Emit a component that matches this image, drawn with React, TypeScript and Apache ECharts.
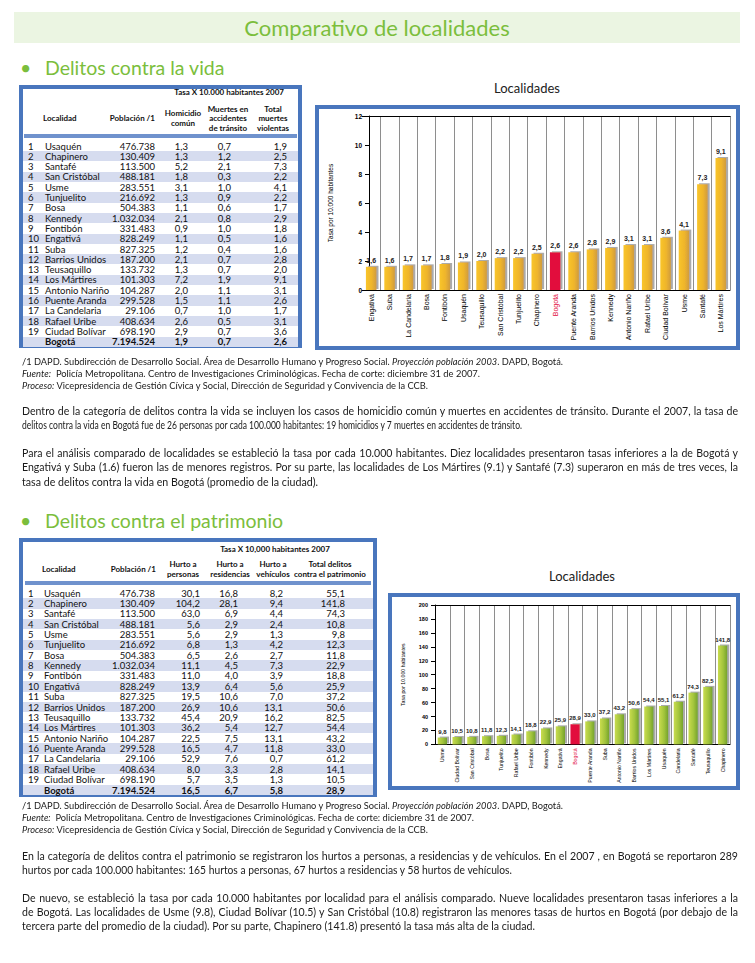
import React, { useEffect, useLayoutEffect, useRef } from "react";
import * as echarts from "echarts";

// ---------- Data: table "Delitos contra la vida" ----------
const localidades = ["Usaquén", "Chapinero", "Santafé", "San Cristóbal", "Usme", "Tunjuelito", "Bosa", "Kennedy", "Fontibón", "Engativá", "Suba", "Barrios Unidos", "Teusaquillo", "Los Mártires", "Antonio Nariño", "Puente Aranda", "La  Candelaria", "Rafael Uribe", "Ciudad Bolívar"];
const poblacion = [476738, 130409, 113500, 488181, 283551, 216692, 504383, 1032034, 331483, 828249, 827325, 187200, 133732, 101303, 104287, 299528, 29106, 408634, 698190];
const poblacionBogota = 7194524;
const homicidioComun = [1.3, 1.3, 5.2, 1.8, 3.1, 1.3, 1.1, 2.1, 0.9, 1.1, 1.2, 2.1, 1.3, 7.2, 2.0, 1.5, 0.7, 2.6, 2.9];
const muertesTransito = [0.7, 1.2, 2.1, 0.3, 1.0, 0.9, 0.6, 0.8, 1.0, 0.5, 0.4, 0.7, 0.7, 1.9, 1.1, 1.1, 1.0, 0.5, 0.7];
const totalVida = [1.9, 2.5, 7.3, 2.2, 4.1, 2.2, 1.7, 2.9, 1.8, 1.6, 1.6, 2.8, 2.0, 9.1, 3.1, 2.6, 1.7, 3.1, 3.6];
const bogotaVida = [1.9, 0.7, 2.6];

// ---------- Data: table "Delitos contra el patrimonio" ----------
const hurtoPersonas = [30.1, 104.2, 63.0, 5.6, 5.6, 6.8, 6.5, 11.1, 11.0, 13.9, 19.5, 26.9, 45.4, 36.2, 22.5, 16.5, 52.9, 8.0, 5.7];
const hurtoResidencias = [16.8, 28.1, 6.9, 2.9, 2.9, 1.3, 2.6, 4.5, 4.0, 6.4, 10.6, 10.6, 20.9, 5.4, 7.5, 4.7, 7.6, 3.3, 3.5];
const hurtoVehiculos = [8.2, 9.4, 4.4, 2.4, 1.3, 4.2, 2.7, 7.3, 3.9, 5.6, 7.0, 13.1, 16.2, 12.7, 13.1, 11.8, 0.7, 2.8, 1.3];
const totalPatrimonio = [55.1, 141.8, 74.3, 10.8, 9.8, 12.3, 11.8, 22.9, 18.8, 25.9, 37.2, 50.6, 82.5, 54.4, 43.2, 33.0, 61.2, 14.1, 10.5];
const bogotaPatrimonio = [16.5, 6.7, 5.8, 28.9];

// ---------- Data: charts ----------
const vidaCategorias = ["Engativá", "Suba", "La Candelaria", "Bosa", "Fontibón", "Usaquén", "Teusaquillo", "San Cristóbal", "Tunjuelito", "Chapinero", "Bogotá", "Puente Aranda", "Barrios Unidos", "Kennedy", "Antonio Nariño", "Rafael Uribe", "Ciudad Bolívar", "Usme", "Santafé", "Los Mártires"];
const vidaValores = [1.6, 1.6, 1.7, 1.7, 1.8, 1.9, 2.0, 2.2, 2.2, 2.5, 2.6, 2.6, 2.8, 2.9, 3.1, 3.1, 3.6, 4.1, 7.3, 9.1];
const vidaEje = [0, 12, 2]; // min, max, interval

const patrimonioCategorias = ["Usme", "Ciudad Bolívar", "San Cristóbal", "Bosa", "Tunjuelito", "Rafael Uribe", "Fontibón", "Kennedy", "Engativá", "Bogotá", "Puente Aranda", "Suba", "Antonio Nariño", "Barrios Unidos", "Los Mártires", "Usaquén", "Candelaria", "Santafé", "Teusaquillo", "Chapinero"];
const patrimonioValores = [9.8, 10.5, 10.8, 11.8, 12.3, 14.1, 18.8, 22.9, 25.9, 28.9, 33.0, 37.2, 43.2, 50.6, 54.4, 55.1, 61.2, 74.3, 82.5, 141.8];
const patrimonioEje = [0, 200, 20];

// ---------- Styling ----------
const W = 755;
const GREEN = "#7BBE3C";
const BLUE = "#4976BD";
const SHADE = "#D6DCEF";
const SEP = "#6F92CD";
const RED = "#E2083C";

const miles = (n: number) => String(n).replace(/\B(?=(\d{3})+(?!\d))/g, ".");
const dec = (v: number) => v.toFixed(1).replace(".", ",");

function Txt({ x, y, a = "l", s = 9, b = false, c = "#111", it = false, children }: any) {
  const lh = Math.ceil(s * 1.3);
  const st: any = {
    position: "absolute", top: y - lh / 2, fontSize: s, lineHeight: lh + "px", whiteSpace: "nowrap",
    fontWeight: b ? 700 : 400, color: c, fontStyle: it ? "italic" : "normal", fontFamily: "Lato",
  };
  if (a === "l") st.left = x;
  else if (a === "r") st.right = W - x;
  else { st.left = x; st.transform = "translateX(-50%)"; }
  return <div style={st}>{children}</div>;
}

// A line of running text fitted to the width it has in the reference.
// Justified lines keep a fixed glyph condensation and spread their word spaces.
function Fit({ x, y, w, s, j = false, c = "#1a1a1a", children }: any) {
  const ref = useRef<HTMLDivElement>(null);
  useLayoutEffect(() => {
    const el = ref.current;
    if (!el) return;
    el.style.transform = "none";
    el.style.wordSpacing = "0px";
    const nat = el.getBoundingClientRect().width;
    if (nat <= 0) return;
    if (j) {
      const g = 0.96;
      const spaces = ((el.textContent || "").match(/ /g) || []).length;
      if (spaces > 0) el.style.wordSpacing = (w / g - nat) / spaces + "px";
      const nat2 = el.getBoundingClientRect().width;
      el.style.transform = `scaleX(${w / nat2})`;
    } else {
      el.style.transform = `scaleX(${w / nat})`;
    }
  }, [w, j]);
  const lh = Math.ceil(s * 1.3);
  return (
    <div ref={ref} style={{ position: "absolute", left: x, top: y - lh / 2, fontSize: s, lineHeight: lh + "px", whiteSpace: "nowrap", transformOrigin: "0 50%", color: c, fontFamily: "Lato" }}>
      {children}
    </div>
  );
}

function Box({ l, t, w, h }: any) {
  return <div style={{ position: "absolute", left: l, top: t, width: w, height: h, border: `4px solid ${BLUE}`, boxSizing: "border-box" }} />;
}

function Chart({ l, t, w, h, option }: any) {
  const ref = useRef<HTMLDivElement>(null);
  useEffect(() => {
    const c = echarts.init(ref.current!, null, { renderer: "svg" });
    c.setOption(option);
    return () => c.dispose();
  }, []);
  return <div ref={ref} style={{ position: "absolute", left: l, top: t, width: w, height: h }} />;
}

function barOption(cats: string[], vals: number[], eje: number[], cfg: any) {
  const grad = new echarts.graphic.LinearGradient(0, 0, 1, 0, cfg.grad);
  const split = cats.map(() => "#8E8E8E");
  split.push("#8E8E8E");
  if (cfg.hideFirst) split[0] = "rgba(0,0,0,0)";
  return {
    animation: false,
    grid: cfg.grid,
    xAxis: [
      {
        type: "category", data: cats,
        axisLine: { lineStyle: { color: "#000", width: 1 } },
        axisTick: { show: false },
        axisLabel: {
          rotate: 90, interval: 0, fontSize: cfg.xFont, fontFamily: "Liberation Sans, Arial", margin: cfg.xMargin,
          color: (v: string) => (v === "Bogotá" ? RED : "#000"),
        },
        splitLine: { show: true, interval: 0, lineStyle: { color: split, width: 1 } },
      },
      {
        type: "category", data: cats, position: "top",
        axisLine: { lineStyle: { color: "#000", width: 1 } },
        axisTick: { show: false }, axisLabel: { show: false }, splitLine: { show: false },
      },
    ],
    yAxis: {
      type: "value", min: eje[0], max: eje[1], interval: eje[2], offset: cfg.yOffset,
      axisLine: { show: true, lineStyle: { color: "#000", width: 1 } },
      axisTick: { show: true, length: 4, lineStyle: { color: "#000" } },
      axisLabel: { fontSize: cfg.yFont, fontWeight: "bold", color: "#000", fontFamily: "Liberation Sans, Arial", margin: cfg.yMargin },
      splitLine: { show: false },
      name: "Tasa por 10.000 habitantes", nameLocation: "middle", nameGap: cfg.nameGap,
      nameTextStyle: { fontSize: cfg.nameFont, color: "#000", fontFamily: "Liberation Sans, Arial" },
    },
    series: [
      {
        type: "bar", xAxisIndex: 0, barWidth: cfg.barWidth,
        data: vals.map((v, i) => ({
          value: v,
          itemStyle: cats[i] === "Bogotá" ? { color: RED } : undefined,
        })),
        itemStyle: { color: grad, shadowColor: "rgba(150,150,150,0.8)", shadowOffsetX: 2, shadowOffsetY: -1, shadowBlur: 0 },
        label: {
          show: true, position: "top", distance: 3, fontSize: cfg.valFont, fontWeight: "bold", color: "#222",
          fontFamily: "Liberation Sans, Arial", formatter: (p: any) => dec(p.value),
        },
      },
    ],
  };
}

const option1 = barOption(vidaCategorias, vidaValores, vidaEje, {
  grad: [{ offset: 0, color: "#F9C52A" }, { offset: 0.55, color: "#EFB52C" }, { offset: 1, color: "#CF9B3E" }],
  grid: { left: 26, right: 6, top: 7, bottom: 56 },
  hideFirst: true, xFont: 7, xMargin: 4, yOffset: -7, yFont: 6.5, yMargin: 7,
  nameGap: 35, nameFont: 6.5, barWidth: 10.6, valFont: 7,
});

const option2 = barOption(patrimonioCategorias, patrimonioValores, patrimonioEje, {
  grad: [{ offset: 0, color: "#C9DC4E" }, { offset: 0.55, color: "#A2C43C" }, { offset: 1, color: "#74A22C" }],
  grid: { left: 31, right: 6, top: 8, bottom: 40 },
  hideFirst: false, xFont: 5.2, xMargin: 4, yOffset: 0, yFont: 5.5, yMargin: 7,
  nameGap: 30, nameFont: 5.2, barWidth: 9.3, valFont: 6,
});

function Table1() {
  const y0 = 146, rh = 10.3;
  const rows: any[] = localidades.map((n, i) => ({ num: String(i + 1), name: n, pop: miles(poblacion[i]), v: [homicidioComun[i], muertesTransito[i], totalVida[i]], b: false }));
  rows.push({ num: "", name: "Bogotá", pop: miles(poblacionBogota), v: bogotaVida, b: true });
  const cols = [188, 231, 287];
  const hs = 8;
  return (
    <>
      <Box l={19} t={85} w={283} h={263} />
      {rows.map((r, i) => (i % 2 === 1 ? <div key={"s" + i} style={{ position: "absolute", left: 23, top: y0 + i * rh - rh / 2, width: 275, height: rh, background: SHADE }} /> : null))}
      <div style={{ position: "absolute", left: 24, top: 134, width: 273, height: 4, background: SEP }} />
      <Txt x={284} y={92} a="r" s={hs} b>Tasa X 10.000 habitantes 2007</Txt>
      <Txt x={43} y={118} s={hs} b>Localidad</Txt>
      <Txt x={155} y={118} a="r" s={hs} b>Población /1</Txt>
      <Txt x={183} y={113} a="c" s={hs} b>Homicidio</Txt>
      <Txt x={183} y={123} a="c" s={hs} b>común</Txt>
      <Txt x={228} y={109} a="c" s={hs} b>Muertes en</Txt>
      <Txt x={228} y={118.5} a="c" s={hs} b>accidentes</Txt>
      <Txt x={228} y={128} a="c" s={hs} b>de tránsito</Txt>
      <Txt x={273} y={109} a="c" s={hs} b>Total</Txt>
      <Txt x={273} y={118.5} a="c" s={hs} b>muertes</Txt>
      <Txt x={273} y={128} a="c" s={hs} b>violentas</Txt>
      {rows.map((r, i) => {
        const y = y0 + i * rh;
        return (
          <React.Fragment key={"r" + i}>
            <Txt x={28} y={y} s={9.5}>{r.num}</Txt>
            <Txt x={45} y={y} s={9.5} b={r.b}>{r.name}</Txt>
            <Txt x={155} y={y} a="r" s={9.5} b={r.b}>{r.pop}</Txt>
            {r.v.map((v: number, k: number) => (
              <Txt key={k} x={cols[k]} y={y} a="r" s={9.5} b={r.b}>{dec(v)}</Txt>
            ))}
          </React.Fragment>
        );
      })}
    </>
  );
}

function Table2() {
  const y0 = 593, rh = 10.37;
  const rows: any[] = localidades.map((n, i) => ({ num: String(i + 1), name: n, pop: miles(poblacion[i]), v: [hurtoPersonas[i], hurtoResidencias[i], hurtoVehiculos[i], totalPatrimonio[i]], b: false }));
  rows.push({ num: "", name: "Bogotá", pop: miles(poblacionBogota), v: bogotaPatrimonio, b: true });
  const cols = [200, 238, 283, 345];
  const hs = 8;
  return (
    <>
      <Box l={19} t={538} w={358} h={259} />
      {rows.map((r, i) => (i % 2 === 1 ? <div key={"s" + i} style={{ position: "absolute", left: 23, top: y0 + i * rh - rh / 2, width: 350, height: rh, background: SHADE }} /> : null))}
      <div style={{ position: "absolute", left: 25, top: 581, width: 346, height: 4, background: SEP }} />
      <Txt x={275} y={549} a="c" s={hs} b>Tasa X 10,000 habitantes 2007</Txt>
      <Txt x={42} y={569} s={hs} b>Localidad</Txt>
      <Txt x={156} y={569} a="r" s={hs} b>Población /1</Txt>
      <Txt x={183} y={564} a="c" s={hs} b>Hurto a</Txt>
      <Txt x={183} y={574} a="c" s={hs} b>personas</Txt>
      <Txt x={230} y={564} a="c" s={hs} b>Hurto a</Txt>
      <Txt x={230} y={574} a="c" s={hs} b>residencias</Txt>
      <Txt x={273} y={564} a="c" s={hs} b>Hurto a</Txt>
      <Txt x={273} y={574} a="c" s={hs} b>vehículos</Txt>
      <Txt x={330} y={564} a="c" s={hs} b>Total delitos</Txt>
      <Txt x={330} y={574} a="c" s={hs} b>contra el patrimonio</Txt>
      {rows.map((r, i) => {
        const y = y0 + i * rh;
        return (
          <React.Fragment key={"r" + i}>
            <Txt x={28} y={y} s={9.5}>{r.num}</Txt>
            <Txt x={44} y={y} s={9.5} b={r.b}>{r.name}</Txt>
            <Txt x={155} y={y} a="r" s={9.5} b={r.b}>{r.pop}</Txt>
            {r.v.map((v: number, k: number) => (
              <Txt key={k} x={cols[k]} y={y} a="r" s={9.5} b={r.b}>{dec(v)}</Txt>
            ))}
          </React.Fragment>
        );
      })}
    </>
  );
}

function Footnotes({ y, w2 }: any) {
  return (
    <>
      <Fit x={22} y={y} w={541} s={9}>/1 DAPD. Subdirección de Desarrollo Social. Área de Desarrollo Humano y Progreso Social. <i>Proyección población 2003</i>. DAPD, Bogotá.</Fit>
      <Fit x={22} y={y + 12} w={w2} s={9}><i>Fuente:</i>&nbsp; Policía Metropolitana. Centro de Investigaciones Criminológicas. Fecha de corte: diciembre 31 de 2007.</Fit>
      <Fit x={22} y={y + 24} w={406} s={9}><i>Proceso:</i> Vicepresidencia de Gestión Cívica y Social, Dirección de Seguridad y Convivencia de la CCB.</Fit>
    </>
  );
}

export default function App() {
  const ps = 11;
  return (
    <div style={{ position: "absolute", left: 0, top: 0, width: W, height: 963, background: "#fff", overflow: "hidden", fontFamily: "Lato" }}>
      <div style={{ position: "absolute", left: 14, top: 12, width: 726, height: 31, background: "#EBF5E2" }} />
      <Txt x={377} y={27.5} a="c" s={22} c={GREEN}>Comparativo de localidades</Txt>

      <Txt x={20} y={68} s={19.5} c={GREEN}>•</Txt>
      <Txt x={45} y={68} s={19.5} c={GREEN}>Delitos contra la vida</Txt>

      <Table1 />

      <Txt x={527} y={88} a="c" s={13} c="#222">Localidades</Txt>
      <Box l={315} t={105} w={425} h={245} />
      <Chart l={319} t={109} w={417} h={237} option={option1} />

      <Footnotes y={362} w2={458} />
      <Fit x={22} y={410} w={716} s={ps} j>Dentro de la categoría de delitos contra la vida se incluyen los casos de homicidio común y muertes en accidentes de tránsito. Durante el 2007, la tasa de</Fit>
      <Fit x={22} y={424} w={500} s={ps}>delitos contra la vida en Bogotá fue de 26 personas por cada 100.000 habitantes: 19 homicidios y 7 muertes en accidentes de tránsito.</Fit>
      <Fit x={22} y={452} w={716} s={ps} j>Para el análisis comparado de localidades se estableció la tasa por cada 10.000 habitantes. Diez localidades presentaron tasas inferiores a la de Bogotá y</Fit>
      <Fit x={22} y={466} w={716} s={ps} j>Engativá y Suba (1.6) fueron las de menores registros. Por su parte, las localidades de Los Mártires (9.1) y Santafé (7.3) superaron en más de tres veces, la</Fit>
      <Fit x={22} y={481} w={296} s={ps}>tasa de delitos contra la vida en Bogotá (promedio de la ciudad).</Fit>

      <Txt x={20} y={521} s={19.5} c={GREEN}>•</Txt>
      <Txt x={45} y={521} s={19.5} c={GREEN}>Delitos contra el patrimonio</Txt>

      <Table2 />

      <Txt x={582} y={576} a="c" s={13} c="#222">Localidades</Txt>
      <Box l={388} t={593} w={352} h={197} />
      <Chart l={392} t={597} w={344} h={189} option={option2} />

      <Footnotes y={806} w2={452} />
      <Fit x={22} y={855} w={716} s={ps} j>En la categoría de delitos contra el patrimonio se registraron los hurtos a personas, a residencias y de vehículos. En el 2007 , en Bogotá se reportaron 289</Fit>
      <Fit x={22} y={869} w={490} s={ps}>hurtos por cada 100.000 habitantes: 165 hurtos a personas, 67 hurtos a residencias y 58 hurtos de vehículos.</Fit>
      <Fit x={22} y={897} w={716} s={ps} j>De nuevo, se estableció la tasa por cada 10.000 habitantes por localidad para el análisis comparado. Nueve localidades presentaron tasas inferiores a la</Fit>
      <Fit x={22} y={911} w={716} s={ps} j>de Bogotá. Las localidades de Usme (9.8), Ciudad Bolívar (10.5) y San Cristóbal (10.8) registraron las menores tasas de hurtos en Bogotá (por debajo de la</Fit>
      <Fit x={22} y={925} w={513} s={ps}>tercera parte del promedio de la ciudad). Por su parte, Chapinero (141.8) presentó la tasa más alta de la ciudad.</Fit>
    </div>
  );
}
